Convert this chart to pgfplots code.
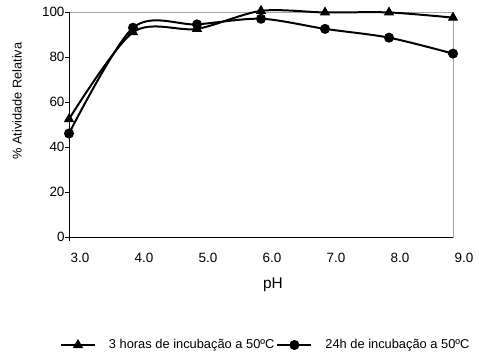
\documentclass[border=0pt]{standalone}
\usepackage{fontspec}
\setmainfont{Liberation Sans}
\usepackage{pgfplots}
\pgfplotsset{compat=1.18}
\begin{document}
\begin{tikzpicture}[x=1bp,y=1bp]
\useasboundingbox (0,0) rectangle (479,352);
\begin{axis}[
  at={(69bp,115bp)}, anchor=south west,
  scale only axis, width=384bp, height=225bp,
  xmin=3, xmax=9, ymin=0, ymax=100,
  axis line style={gray!70, line width=0.8pt},
  xtick={3,4,5,6,7,8,9},
  xticklabels={3.0,4.0,5.0,6.0,7.0,8.0,9.0},
  ytick={0,20,40,60,80,100},
  x tick style={draw=none},
  y tick style={black, line width=0.6pt},
  tick align=outside, major tick length=4bp,
  ytick pos=left, xtick pos=bottom,
  /pgf/number format/assume math mode=true,
  ticklabel style={font=\fontsize{13.5}{14}\selectfont},
  xticklabel style={xshift=11bp, yshift=-9bp},
  yticklabel style={anchor=east, xshift=3bp},
  xlabel={pH},
  xlabel style={at={(axis description cs:0.531,-0.213)}, anchor=center, font=\fontsize{15.5}{16}\selectfont},
  ylabel={\% Atividade Relativa},
  ylabel style={at={(axis description cs:-0.135,0.604)}, anchor=center, font=\fontsize{12.8}{13}\selectfont},
  legend columns=2,
  legend style={draw=none, fill=none, at={(axis description cs:-0.024,-0.48)}, anchor=west,
    font=\fontsize{12.9}{14}\selectfont, inner sep=0pt,
    /tikz/every odd column/.append style={column sep=11bp},
    /tikz/every even column/.append style={column sep=0bp}},
  legend image code/.code={\draw[mark repeat=2,mark phase=2,#1] plot coordinates {(0bp,0bp) (17bp,0bp) (34bp,0bp)};},
  clip=false,
]
\addplot[black, line width=2pt, smooth, tension=0.5, mark=triangle*, mark size=5bp, mark options={solid, line width=1pt}] coordinates {
(3,52.4) (4,91) (5,92.5) (6,100.5) (7,99.8) (8,99.8) (9,97.5)};
\addlegendentry{3 horas de incubação a 50ºC}
\addplot[black, line width=2pt, smooth, tension=0.5, mark=*, mark size=4.5bp, mark options={line width=1pt}] coordinates {
(3,46) (4,93) (5,94.5) (6,97) (7,92.5) (8,88.6) (9,81.5)};
\addlegendentry{24h de incubação a 50ºC}
\draw[black, line width=0.8pt] (rel axis cs:0,1) -- (rel axis cs:0,0) -- (rel axis cs:1,0);
\draw[black, line width=0.6pt] (rel axis cs:0,0) -- ([yshift=-4bp]rel axis cs:0,0);
\end{axis}
\end{tikzpicture}
\end{document}
